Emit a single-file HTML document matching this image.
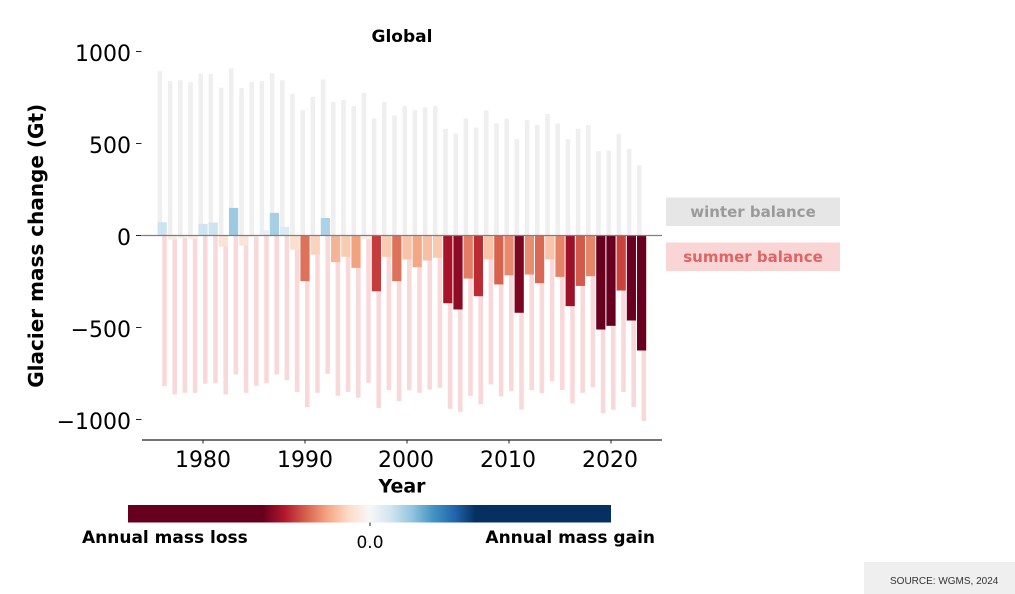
<!DOCTYPE html>
<html>
<head>
<meta charset="utf-8">
<style>
  html, body { margin: 0; padding: 0; background: #ffffff; }
  body { width: 1015px; height: 594px; overflow: hidden; position: relative; }
  svg { position: absolute; left: 0; top: 0; }
</style>
</head>
<body>
<svg width="1015" height="594" viewBox="0 0 1015 594" xmlns="http://www.w3.org/2000/svg" font-family="'DejaVu Sans', 'Liberation Sans', sans-serif">
  <defs>
    <linearGradient id="cb" x1="0" y1="0" x2="1" y2="0">
      <stop offset="0" stop-color="#67001f"/>
      <stop offset="0.28" stop-color="#67001f"/>
      <stop offset="0.324" stop-color="#b2182b"/>
      <stop offset="0.368" stop-color="#d6604d"/>
      <stop offset="0.412" stop-color="#f4a582"/>
      <stop offset="0.456" stop-color="#fddbc7"/>
      <stop offset="0.5" stop-color="#f7f7f7"/>
      <stop offset="0.544" stop-color="#d1e5f0"/>
      <stop offset="0.588" stop-color="#92c5de"/>
      <stop offset="0.632" stop-color="#4393c3"/>
      <stop offset="0.676" stop-color="#2166ac"/>
      <stop offset="0.72" stop-color="#053061"/>
      <stop offset="1" stop-color="#053061"/>
    </linearGradient>
  </defs>

  <text x="402" y="42" font-size="17" font-weight="bold" text-anchor="middle" fill="#000">Global</text>

  <g transform="translate(203,235.5) scale(10.2,-0.184)">
    <g fill="#efefef">
      <rect x="-4.45" y="0" width="0.45" height="893"/>
      <rect x="-3.45" y="0" width="0.45" height="839"/>
      <rect x="-2.45" y="0" width="0.45" height="844"/>
      <rect x="-1.45" y="0" width="0.45" height="833"/>
      <rect x="-0.45" y="0" width="0.45" height="879"/>
      <rect x="0.55" y="0" width="0.45" height="879"/>
      <rect x="1.55" y="0" width="0.45" height="803"/>
      <rect x="2.55" y="0" width="0.45" height="909"/>
      <rect x="3.55" y="0" width="0.45" height="801"/>
      <rect x="4.55" y="0" width="0.45" height="833"/>
      <rect x="5.55" y="0" width="0.45" height="839"/>
      <rect x="6.55" y="0" width="0.45" height="882"/>
      <rect x="7.55" y="0" width="0.45" height="844"/>
      <rect x="8.55" y="0" width="0.45" height="770"/>
      <rect x="9.55" y="0" width="0.45" height="681"/>
      <rect x="10.55" y="0" width="0.45" height="754"/>
      <rect x="11.55" y="0" width="0.45" height="848"/>
      <rect x="12.55" y="0" width="0.45" height="725"/>
      <rect x="13.55" y="0" width="0.45" height="737"/>
      <rect x="14.55" y="0" width="0.45" height="703"/>
      <rect x="15.55" y="0" width="0.45" height="775"/>
      <rect x="16.55" y="0" width="0.45" height="636"/>
      <rect x="17.55" y="0" width="0.45" height="725"/>
      <rect x="18.55" y="0" width="0.45" height="652"/>
      <rect x="19.55" y="0" width="0.45" height="703"/>
      <rect x="20.55" y="0" width="0.45" height="681"/>
      <rect x="21.55" y="0" width="0.45" height="697"/>
      <rect x="22.55" y="0" width="0.45" height="703"/>
      <rect x="23.55" y="0" width="0.45" height="580"/>
      <rect x="24.55" y="0" width="0.45" height="554"/>
      <rect x="25.55" y="0" width="0.45" height="636"/>
      <rect x="26.55" y="0" width="0.45" height="587"/>
      <rect x="27.55" y="0" width="0.45" height="679"/>
      <rect x="28.55" y="0" width="0.45" height="609"/>
      <rect x="29.55" y="0" width="0.45" height="634"/>
      <rect x="30.55" y="0" width="0.45" height="525"/>
      <rect x="31.55" y="0" width="0.45" height="627"/>
      <rect x="32.55" y="0" width="0.45" height="600"/>
      <rect x="33.55" y="0" width="0.45" height="661"/>
      <rect x="34.55" y="0" width="0.45" height="609"/>
      <rect x="35.55" y="0" width="0.45" height="525"/>
      <rect x="36.55" y="0" width="0.45" height="580"/>
      <rect x="37.55" y="0" width="0.45" height="600"/>
      <rect x="38.55" y="0" width="0.45" height="458"/>
      <rect x="39.55" y="0" width="0.45" height="462"/>
      <rect x="40.55" y="0" width="0.45" height="553"/>
      <rect x="41.55" y="0" width="0.45" height="471"/>
      <rect x="42.55" y="0" width="0.45" height="382"/>
    </g>
    <g fill="#f8d8d8">
      <rect x="-4" y="-819" width="0.45" height="819"/>
      <rect x="-3" y="-864" width="0.45" height="864"/>
      <rect x="-2" y="-855" width="0.45" height="855"/>
      <rect x="-1" y="-855" width="0.45" height="855"/>
      <rect x="0" y="-806" width="0.45" height="806"/>
      <rect x="1" y="-803" width="0.45" height="803"/>
      <rect x="2" y="-864" width="0.45" height="864"/>
      <rect x="3" y="-755" width="0.45" height="755"/>
      <rect x="4" y="-855" width="0.45" height="855"/>
      <rect x="5" y="-817" width="0.45" height="817"/>
      <rect x="6" y="-803" width="0.45" height="803"/>
      <rect x="7" y="-755" width="0.45" height="755"/>
      <rect x="8" y="-786" width="0.45" height="786"/>
      <rect x="9" y="-850" width="0.45" height="850"/>
      <rect x="10" y="-933" width="0.45" height="933"/>
      <rect x="11" y="-855" width="0.45" height="855"/>
      <rect x="12" y="-752" width="0.45" height="752"/>
      <rect x="13" y="-871" width="0.45" height="871"/>
      <rect x="14" y="-850" width="0.45" height="850"/>
      <rect x="15" y="-882" width="0.45" height="882"/>
      <rect x="16" y="-801" width="0.45" height="801"/>
      <rect x="17" y="-937" width="0.45" height="937"/>
      <rect x="18" y="-841" width="0.45" height="841"/>
      <rect x="19" y="-900" width="0.45" height="900"/>
      <rect x="20" y="-841" width="0.45" height="841"/>
      <rect x="21" y="-855" width="0.45" height="855"/>
      <rect x="22" y="-837" width="0.45" height="837"/>
      <rect x="23" y="-828" width="0.45" height="828"/>
      <rect x="24" y="-942" width="0.45" height="942"/>
      <rect x="25" y="-958" width="0.45" height="958"/>
      <rect x="26" y="-871" width="0.45" height="871"/>
      <rect x="27" y="-918" width="0.45" height="918"/>
      <rect x="28" y="-810" width="0.45" height="810"/>
      <rect x="29" y="-875" width="0.45" height="875"/>
      <rect x="30" y="-846" width="0.45" height="846"/>
      <rect x="31" y="-946" width="0.45" height="946"/>
      <rect x="32" y="-841" width="0.45" height="841"/>
      <rect x="33" y="-857" width="0.45" height="857"/>
      <rect x="34" y="-792" width="0.45" height="792"/>
      <rect x="35" y="-839" width="0.45" height="839"/>
      <rect x="36" y="-913" width="0.45" height="913"/>
      <rect x="37" y="-855" width="0.45" height="855"/>
      <rect x="38" y="-824" width="0.45" height="824"/>
      <rect x="39" y="-966" width="0.45" height="966"/>
      <rect x="40" y="-947" width="0.45" height="947"/>
      <rect x="41" y="-850" width="0.45" height="850"/>
      <rect x="42" y="-933" width="0.45" height="933"/>
      <rect x="43" y="-1009" width="0.45" height="1009"/>
    </g>
    <g>
      <rect x="-4.45" y="0" width="0.9" height="72" fill="#cde3ef"/>
      <rect x="-3.45" y="-22" width="0.9" height="22" fill="#faece5"/>
      <rect x="-2.45" y="-14" width="0.9" height="14" fill="#faece5"/>
      <rect x="-1.45" y="-18" width="0.9" height="18" fill="#faece5"/>
      <rect x="-0.45" y="0" width="0.9" height="63" fill="#cfe4ef"/>
      <rect x="0.55" y="0" width="0.9" height="70" fill="#cde3ef"/>
      <rect x="1.55" y="-61" width="0.9" height="61" fill="#fbe3d6"/>
      <rect x="2.55" y="0" width="0.9" height="150" fill="#9ecae1"/>
      <rect x="3.55" y="-55" width="0.9" height="55" fill="#fbe5d8"/>
      <rect x="4.55" y="-8" width="0.9" height="8" fill="#f9efea"/>
      <rect x="5.55" y="0" width="0.9" height="29" fill="#e6eff4"/>
      <rect x="6.55" y="0" width="0.9" height="123" fill="#a6cfe4"/>
      <rect x="7.55" y="0" width="0.9" height="47" fill="#dcebf3"/>
      <rect x="8.55" y="-77" width="0.9" height="77" fill="#fcdfce"/>
      <rect x="9.55" y="-248" width="0.9" height="248" fill="#dd715a"/>
      <rect x="10.55" y="-104" width="0.9" height="104" fill="#fcd2bc"/>
      <rect x="11.55" y="0" width="0.9" height="95" fill="#acd2e6"/>
      <rect x="12.55" y="-145" width="0.9" height="145" fill="#f6b497"/>
      <rect x="13.55" y="-116" width="0.9" height="116" fill="#facbb3"/>
      <rect x="14.55" y="-176" width="0.9" height="176" fill="#f3a280"/>
      <rect x="15.55" y="-20" width="0.9" height="20" fill="#faece5"/>
      <rect x="16.55" y="-303" width="0.9" height="303" fill="#c63b3c"/>
      <rect x="17.55" y="-116" width="0.9" height="116" fill="#facbb3"/>
      <rect x="18.55" y="-248" width="0.9" height="248" fill="#dd715a"/>
      <rect x="19.55" y="-130" width="0.9" height="130" fill="#f9c3a9"/>
      <rect x="20.55" y="-172" width="0.9" height="172" fill="#f4a785"/>
      <rect x="21.55" y="-136" width="0.9" height="136" fill="#f8bfa4"/>
      <rect x="22.55" y="-121" width="0.9" height="121" fill="#fac9b0"/>
      <rect x="23.55" y="-368" width="0.9" height="368" fill="#a8132a"/>
      <rect x="24.55" y="-402" width="0.9" height="402" fill="#8c0b25"/>
      <rect x="25.55" y="-234" width="0.9" height="234" fill="#e27c62"/>
      <rect x="26.55" y="-330" width="0.9" height="330" fill="#bc2a34"/>
      <rect x="27.55" y="-130" width="0.9" height="130" fill="#f9c3a9"/>
      <rect x="28.55" y="-266" width="0.9" height="266" fill="#d7634f"/>
      <rect x="29.55" y="-216" width="0.9" height="216" fill="#e8896d"/>
      <rect x="30.55" y="-420" width="0.9" height="420" fill="#7c0622"/>
      <rect x="31.55" y="-212" width="0.9" height="212" fill="#e98c6f"/>
      <rect x="32.55" y="-259" width="0.9" height="259" fill="#da6853"/>
      <rect x="33.55" y="-130" width="0.9" height="130" fill="#f9c3a9"/>
      <rect x="34.55" y="-225" width="0.9" height="225" fill="#e58267"/>
      <rect x="35.55" y="-384" width="0.9" height="384" fill="#9b1128"/>
      <rect x="36.55" y="-274" width="0.9" height="274" fill="#d35a4a"/>
      <rect x="37.55" y="-221" width="0.9" height="221" fill="#e6856a"/>
      <rect x="38.55" y="-511" width="0.9" height="511" fill="#67001f"/>
      <rect x="39.55" y="-491" width="0.9" height="491" fill="#67001f"/>
      <rect x="40.55" y="-299" width="0.9" height="299" fill="#c8423f"/>
      <rect x="41.55" y="-462" width="0.9" height="462" fill="#6a0120"/>
      <rect x="42.55" y="-625" width="0.9" height="625" fill="#67001f"/>
    </g>
  </g>

  <line x1="142" y1="235.5" x2="662" y2="235.5" stroke="#7f7f7f" stroke-width="1.3"/>

  <g stroke="#222" stroke-width="1">
    <line x1="136" y1="51.5" x2="141.5" y2="51.5"/>
    <line x1="136" y1="143.5" x2="141.5" y2="143.5"/>
    <line x1="136" y1="235.5" x2="141.5" y2="235.5"/>
    <line x1="136" y1="327.5" x2="141.5" y2="327.5"/>
    <line x1="136" y1="419.5" x2="141.5" y2="419.5"/>
  </g>
  <g font-size="22" text-anchor="end" fill="#000">
    <text x="131" y="61">1000</text>
    <text x="131" y="153">500</text>
    <text x="131" y="245">0</text>
    <text x="131" y="337">−500</text>
    <text x="131" y="429">−1000</text>
  </g>

  <text transform="translate(43,245.8) rotate(-90)" font-size="20" font-weight="bold" text-anchor="middle" fill="#000">Glacier mass change (Gt)</text>

  <line x1="142" y1="440" x2="662" y2="440" stroke="#222" stroke-width="1.3"/>
  <g stroke="#222" stroke-width="1">
    <line x1="203" y1="440" x2="203" y2="443.5"/>
    <line x1="305" y1="440" x2="305" y2="443.5"/>
    <line x1="407" y1="440" x2="407" y2="443.5"/>
    <line x1="509" y1="440" x2="509" y2="443.5"/>
    <line x1="611" y1="440" x2="611" y2="443.5"/>
  </g>
  <g font-size="22" text-anchor="middle" fill="#000">
    <text x="203" y="467">1980</text>
    <text x="305" y="467">1990</text>
    <text x="406" y="467">2000</text>
    <text x="508" y="467">2010</text>
    <text x="610" y="467">2020</text>
  </g>
  <text x="402" y="492.5" font-size="19" font-weight="bold" text-anchor="middle" fill="#000">Year</text>

  <rect x="666" y="197.5" width="174" height="28.5" fill="#e6e6e6"/>
  <text x="753" y="217" font-size="15" font-weight="bold" text-anchor="middle" fill="#9a9a9a">winter balance</text>
  <rect x="666" y="242.5" width="174" height="28.5" fill="#fad5d5"/>
  <text x="753" y="262" font-size="15" font-weight="bold" text-anchor="middle" fill="#e06464">summer balance</text>

  <rect x="128" y="505" width="483" height="17.5" fill="url(#cb)"/>
  <line x1="370" y1="522.5" x2="370" y2="526" stroke="#222" stroke-width="1"/>
  <text x="370" y="548" font-size="17" text-anchor="middle" fill="#000">0.0</text>
  <text x="82" y="543" font-size="17" font-weight="bold" fill="#000">Annual mass loss</text>
  <text x="655" y="543" font-size="17" font-weight="bold" text-anchor="end" fill="#000">Annual mass gain</text>

  <rect x="864" y="562" width="151" height="32" fill="#efefef"/>
  <text x="890" y="584" font-size="10" font-family="'Liberation Sans', Arial, sans-serif" fill="#333">SOURCE: WGMS, 2024</text>
</svg>
</body>
</html>
